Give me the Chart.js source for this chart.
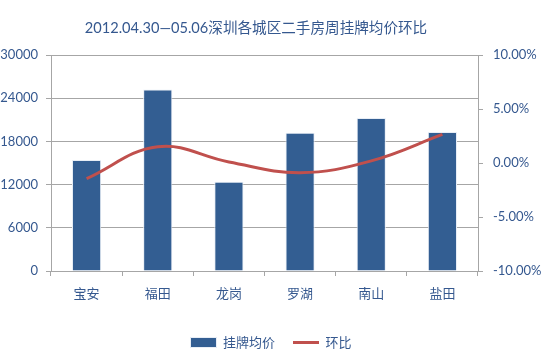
<!DOCTYPE html>
<html>
<head>
<meta charset="utf-8">
<script src="https://cdn.jsdelivr.net/npm/chart.js@4.4.0/dist/chart.umd.min.js"></script>
<style>
  html, body { margin: 0; padding: 0; background: #fff; }
  #wrap { width: 542px; height: 362px; }
</style>
</head>
<body>
<div id="wrap"><canvas id="chart"></canvas></div>
<script>
// 数据
const districts = ['宝安', '福田', '龙岗', '罗湖', '南山', '盐田'];
const avgPrice = [15400, 25200, 12400, 19200, 21250, 19300];
const changePct = [-1.45, 1.5, 0.1, -0.9, 0.2, 2.65];
const titleText = '2012.04.30—05.06深圳各城区二手房周挂牌均价环比';

const blue = '#335E92';
const red = '#C0504D';
const txt = '#35588f';
const gridGray = '#a6a6a6';
const fam = 'Lato, "Noto Sans CJK SC", sans-serif';

// 标题画在 x=256 处（原图略偏左）
const titlePlugin = {
  id: 'customTitle',
  afterDraw(chart) {
    const c = chart.ctx;
    c.save();
    c.font = '14.6px ' + fam;
    c.fillStyle = txt;
    c.textAlign = 'center';
    c.textBaseline = 'middle';
    c.fillText(titleText, 256, 28);
    c.restore();
  },
};

const ctx = document.getElementById('chart');
new Chart(ctx, {
  data: {
    labels: districts,
    datasets: [
      {
        type: 'bar',
        label: '挂牌均价',
        data: avgPrice,
        backgroundColor: blue,
        borderColor: '#e8eef6',
        borderWidth: 1,
        barPercentage: 0.41,
        categoryPercentage: 1,
        yAxisID: 'y',
        pointStyle: 'rect',
        order: 2,
      },
      {
        type: 'line',
        label: '环比',
        data: changePct,
        borderColor: red,
        backgroundColor: red,
        borderWidth: 3,
        pointRadius: 0,
        pointStyle: 'line',
        tension: 0.4,
        yAxisID: 'y1',
        order: 1,
      },
    ],
  },
  options: {
    responsive: true,
    maintainAspectRatio: false,
    animation: false,
    layout: { padding: { top: 55, left: 0, right: 0, bottom: 3 } },
    plugins: {
      legend: {
        position: 'bottom',
        labels: {
          usePointStyle: true,
          pointStyleWidth: 26,
          boxHeight: 10,
          color: txt,
          font: { family: fam, size: 13 },
          padding: 18,
          sort: (a, b) => a.datasetIndex - b.datasetIndex,
        },
      },
      tooltip: { enabled: false },
    },
    scales: {
      x: {
        grid: {
          offset: true,
          drawOnChartArea: false,
          drawTicks: true,
          tickLength: 5,
          color: gridGray,
        },
        border: { color: gridGray },
        ticks: { color: txt, font: { family: fam, size: 13 }, padding: 10 },
        afterFit: s => { s.height = 47; },
      },
      y: {
        position: 'left',
        min: 0,
        max: 30000,
        ticks: {
          stepSize: 6000,
          color: txt,
          font: { family: fam, size: 13 },
          padding: 8,
          callback: v => String(v),
        },
        grid: { color: gridGray, tickLength: 5 },
        border: { color: gridGray },
        afterFit: s => { s.width = 51; },
      },
      y1: {
        position: 'right',
        min: -10,
        max: 10,
        ticks: {
          stepSize: 5,
          color: txt,
          font: { family: fam, size: 13 },
          padding: 10,
          callback: v => v.toFixed(2) + '%',
        },
        grid: { drawOnChartArea: false, color: gridGray, tickLength: 5 },
        border: { color: gridGray },
        afterFit: s => { s.width = 64; },
      },
    },
  },
  plugins: [titlePlugin],
});
</script>
</body>
</html>
